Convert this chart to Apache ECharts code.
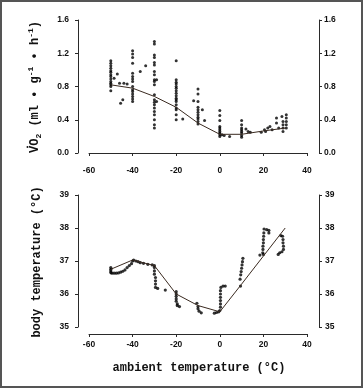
<!DOCTYPE html>
<html><head><meta charset="utf-8">
<script src="https://cdn.jsdelivr.net/npm/echarts@6/dist/echarts.min.js"></script>
<style>html,body{margin:0;padding:0;background:#fff}#c{width:364px;height:389px}</style>
</head><body><div id="c"></div>
<script>
// ---- data ----
const xTicks = [-60, -40, -20, 0, 20, 40];
const vo2Ticks = [0.0, 0.4, 0.8, 1.2, 1.6];
const tbTicks = [35, 36, 37, 38, 39];

const meanTemp = [-50, -40, -30, -20, -10, 0, 10, 20, 30];
const meanVo2 = [0.82, 0.78, 0.68, 0.55, 0.36, 0.225, 0.225, 0.265, 0.30];
const meanTb = [36.75, 37.03, 36.86, 36.0, 35.65, 35.46, 36.3, 37.15, 38.0];

const vo2Temp = [
  -50,-50,-50,-50,-50,-50,-50,-50,-50,-50,-50,-50,-50,-50,
  -48.5,-47,-46,-44,-42.5,-44.5,-45.5,
  -40,-40,-40,-40,-40,-40,-40,-40,-40,-40,-40,-40,-40,-40,-40,
  -36.5,-34,
  -30,-30,-30,-30,-30,-30,-30,-30,-30,-30,-30,-30,-30,-30,-30,-30,-30,-30,-30,-30,-30,
  -29,-29,
  -20,-20,-20,-20,-20,-20,-20,-20,-20,-20,-20,-20,-20,-20,-20,-20,-20,
  -17,-12,
  -10,-10,-10,-10,-10,-10,-10,-10,-10,-10,-10,
  -8,-7,
  0,0,0,0,0,0,0,0,0,0,
  1,2,4.5,
  10,10,10,10,10,10,10,10,
  12,13,14,
  19,20.5,22,23,24,21,
  26,26,27,28.5,29,29,29,29,30.5,30.5,30.5,30.5,30.5
];
const vo2Val = [
  1.11,1.08,1.05,1.02,0.99,0.97,0.94,0.92,0.89,0.86,0.84,0.82,0.80,0.75,
  0.90,0.95,0.84,0.84,0.83,0.64,0.60,
  1.23,1.19,1.15,1.08,0.96,0.92,0.89,0.86,0.80,0.76,0.74,0.71,0.68,0.65,0.62,
  0.98,1.05,
  1.34,1.31,1.18,1.15,1.09,1.06,0.98,0.94,0.88,0.86,0.82,0.70,0.64,0.61,0.58,0.54,0.50,0.46,0.40,0.34,0.30,
  0.62,0.88,
  1.11,0.88,0.85,0.83,0.80,0.78,0.75,0.72,0.69,0.66,0.64,0.62,0.58,0.54,0.52,0.46,0.40,
  0.41,0.63,
  0.77,0.71,0.62,0.55,0.52,0.49,0.46,0.43,0.41,0.38,0.35,
  0.52,0.39,
  0.51,0.45,0.39,0.32,0.30,0.28,0.26,0.24,0.22,0.20,
  0.22,0.21,0.20,
  0.39,0.34,0.30,0.28,0.26,0.24,0.21,0.19,
  0.29,0.26,0.25,
  0.25,0.28,0.30,0.32,0.28,0.26,
  0.42,0.36,0.30,0.44,0.38,0.34,0.30,0.26,0.46,0.42,0.38,0.34,0.30
];

const tbTemp = [
  -50,-50,-50,-50,-49.5,-48.5,-47.5,-46.5,-45.5,-44.5,-43.5,-42.5,-41.5,-40.5,
  -40,-39.5,-38.5,-37.5,-36.5,-35,-33,-31,
  -30,-30,-30,-30,-29.5,-29.5,-29.5,-29.5,-28.5,-25,
  -20,-20,-20,-20,-20,-19.5,-19.5,-18.5,
  -10.5,-10,-10,-9.5,-8.5,
  -2.5,-1.5,-0.5,0,0.3,0.3,0.3,0.3,0.3,0.3,0.5,1.5,2.5,
  9.5,10.6,10.4,10.2,10.0,9.8,9.6,9.3,
  20.3,21.5,22.5,20.2,20.1,20,20,19.8,19.8,19.7,18.4,20,22.5,
  28,28.8,29,29,29.2,29.2,28.5,27.5,26.8
];
const tbVal = [
  36.80,36.75,36.70,36.65,36.63,36.63,36.63,36.64,36.66,36.69,36.73,36.80,36.86,36.92,
  37.00,37.03,37.00,36.98,36.95,36.93,36.90,36.88,
  36.86,36.80,36.70,36.60,36.50,36.40,36.30,36.20,36.17,36.12,
  36.07,36.00,35.93,35.85,35.78,35.70,35.65,35.62,
  35.72,35.62,35.55,35.48,35.43,
  35.42,35.44,35.46,35.50,35.60,35.70,35.80,35.90,36.00,36.10,36.20,36.24,36.24,
  36.24,37.08,36.98,36.88,36.78,36.68,36.58,36.45,
  37.97,37.95,37.93,37.85,37.75,37.65,37.55,37.45,37.35,37.25,37.18,37.20,37.85,
  37.77,37.75,37.65,37.55,37.45,37.35,37.28,37.25,37.20
];

// ---- build ----
const zip = (a, b) => a.map((v, i) => [v, b[i]]);
const axisCol = '#2a2a2a';
const labelStyle = { fontFamily: 'Liberation Sans', fontWeight: 'bold', fontSize: 8.5, color: '#111' };

function xAxisDef(gi, offset, margin) {
  return {
    gridIndex: gi, type: 'value', min: xTicks[0], max: xTicks[xTicks.length - 1],
    interval: xTicks[1] - xTicks[0], offset: offset,
    axisLine: { show: true, lineStyle: { color: axisCol, width: 1 } },
    axisTick: { show: true, length: 3, lineStyle: { color: axisCol } },
    axisLabel: Object.assign({ margin: margin }, labelStyle),
    splitLine: { show: false }
  };
}
function yAxisDef(gi, pos, ticks, offset, margin, digits) {
  return {
    gridIndex: gi, type: 'value', position: pos, min: ticks[0], max: ticks[ticks.length - 1],
    interval: ticks[1] - ticks[0], offset: offset,
    axisLine: { show: true, onZero: false, lineStyle: { color: axisCol, width: 1 } },
    axisTick: { show: true, length: 3, lineStyle: { color: axisCol } },
    axisLabel: Object.assign({ margin: margin, formatter: v => v.toFixed(digits) }, labelStyle),
    splitLine: { show: false }
  };
}

const chart = echarts.init(document.getElementById('c'), null, { renderer: 'canvas' });
const titleFont = { fontFamily: 'Liberation Mono', fontWeight: 'bold', fontSize: 12, fill: '#111' };
chart.setOption({
  animation: false,
  backgroundColor: '#fff',
  grid: [
    { left: 89, width: 218, top: 20, height: 133 },
    { left: 89, width: 218, top: 195, height: 132 }
  ],
  xAxis: [xAxisDef(0, 8, 5), xAxisDef(1, 7, 6)],
  yAxis: [
    yAxisDef(0, 'left', vo2Ticks, 11, 9, 1),
    yAxisDef(0, 'right', vo2Ticks, 12, 5, 1),
    yAxisDef(1, 'left', tbTicks, 11, 9, 0),
    yAxisDef(1, 'right', tbTicks, 12, 6, 0)
  ],
  series: [
    { type: 'scatter', xAxisIndex: 0, yAxisIndex: 0, data: zip(vo2Temp, vo2Val),
      symbolSize: 3, itemStyle: { color: '#000' } },
    { type: 'line', xAxisIndex: 0, yAxisIndex: 0, data: zip(meanTemp, meanVo2),
      showSymbol: false, lineStyle: { color: '#3a2a20', width: 1 } },
    { type: 'scatter', xAxisIndex: 1, yAxisIndex: 2, data: zip(tbTemp, tbVal),
      symbolSize: 3.2, itemStyle: { color: '#000' } },
    { type: 'line', xAxisIndex: 1, yAxisIndex: 2, data: zip(meanTemp, meanTb),
      showSymbol: false, lineStyle: { color: '#3a2a20', width: 1 } }
  ],
  graphic: [
    { type: 'rect', shape: { x: 1, y: 1, width: 361, height: 386 }, silent: true,
      style: { fill: 'none', stroke: '#555', lineWidth: 2 } },
    { type: 'text', x: 35, y: 87, rotation: Math.PI / 2,
      style: Object.assign({
        text: '{n|VO}{s|2}{n| (ml • g}{p|-1}{n| • h}{p|-1}{n|)}',
        align: 'center', verticalAlign: 'middle',
        rich: {
          n: { fontFamily: 'Liberation Mono', fontWeight: 'bold', fontSize: 12, lineHeight: 16, verticalAlign: 'middle' },
          s: { fontFamily: 'Liberation Mono', fontWeight: 'bold', fontSize: 8, lineHeight: 8, verticalAlign: 'bottom' },
          p: { fontFamily: 'Liberation Mono', fontWeight: 'bold', fontSize: 8, lineHeight: 8, verticalAlign: 'top' }
        }
      }, titleFont) },
    { type: 'circle', shape: { cx: 27.5, cy: 147, r: 1 }, silent: true, style: { fill: '#111' } },
    { type: 'text', x: 37, y: 262, rotation: Math.PI / 2,
      style: Object.assign({ text: 'body temperature (°C)', align: 'center', verticalAlign: 'middle' }, titleFont) },
    { type: 'text', x: 199, y: 368,
      style: Object.assign({ text: 'ambient temperature (°C)', align: 'center', verticalAlign: 'middle' }, titleFont) }
  ]
});
</script></body></html>
